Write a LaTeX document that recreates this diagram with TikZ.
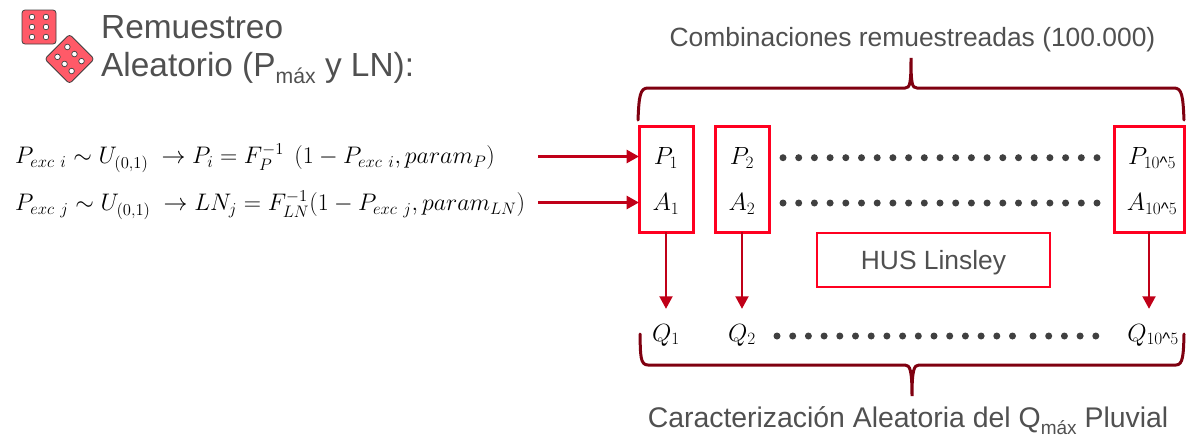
\documentclass[tikz,border=0pt]{standalone}
\usepackage{amsmath}
\usepackage[no-math]{fontspec}
\setmainfont{Liberation Sans}
\usepackage{xcolor}
\usetikzlibrary{arrows.meta,positioning}
\definecolor{boxred}{HTML}{FF0020}
\definecolor{arrowred}{HTML}{C00018}
\definecolor{bracered}{HTML}{7F0010}
\definecolor{dicered}{HTML}{FF5A68}
\definecolor{txtgray}{HTML}{505050}
\definecolor{dotgray}{HTML}{404040}
\newcommand{\subtxt}[2]{\raisebox{-7pt}{\fontsize{#1}{#1}\selectfont #2}}
\newcommand{\caretsym}{\text{\textasciicircum}}

\begin{document}
\begin{tikzpicture}[
    x=1pt, y=-1pt,
    node distance=22pt,
    sample/.style={draw=boxred, line width=3pt, minimum width=54pt, minimum height=106pt, inner sep=0pt, outer sep=0pt},
    hus/.style={draw=boxred, line width=1.2pt, minimum width=233pt, minimum height=54pt, text depth=1pt, font=\fontsize{26.4}{30}\selectfont, text=txtgray},
    val/.style={font=\fontsize{24}{28}\selectfont, inner sep=0pt},
    eqn/.style={font=\fontsize{20}{24}\selectfont, scale=1.154, transform shape, anchor=west, inner sep=0pt},
    qval/.style={val, minimum height=52pt},
    title/.style={text=txtgray, inner sep=0pt, anchor=base},
    arrow/.style={-{Triangle[length=12.5pt,width=13pt]}, line width=2pt, color=arrowred},
    harrow/.style={arrow, line width=3pt},
    brace/.style={line width=3pt, color=bracered, line cap=round},
    die/.style={draw=black!75, line width=0.8pt, fill=dicered, rounded corners=3pt},
    pip/.style={draw=black!75, line width=0.7pt, fill=white},
]
\useasboundingbox (0,0) rectangle (1197,437);

% Dice
\draw[die] (22,10) rectangle (56,44);
\foreach \px in {-7,7} \foreach \py in {-10,0,10}
    \draw[pip] (39+\px,27+\py) circle (2.8);
\begin{scope}[shift={(69.5,59)}, rotate=45]
    \draw[die] (-17.5,-17.5) rectangle (17.5,17.5);
    \foreach \px in {-7,7} \foreach \py in {-10,0,10}
        \draw[pip] (\px,\py) circle (2.8);
\end{scope}

% Heading
\node[font=\fontsize{33.4}{38}\selectfont, text=txtgray, align=left, anchor=north west, inner sep=0pt] (head) at (101,15)
    {Remuestreo\\Aleatorio (P\subtxt{21.2}{máx} y LN):};

% Equations
\node[eqn] (eqP) at (15,158) {$P_{exc\ i}\sim U_{(0,1)}\ \rightarrow P_i=F_P^{-1}\ \,(1-P_{exc\ i},param_P)$};
\node[eqn] (eqA) at (15,205) {$P_{exc\ j}\sim U_{(0,1)}\ \rightarrow LN_j=F_{LN}^{-1}(1-P_{exc\ j},param_{LN})$};
\coordinate (inP) at (538,156.5);
\coordinate (inA) at (538,202.5);

% Sample boxes
\node[sample] (box1) at (666,179) {};
\node[sample, right=of box1] (box2) {};
\node[sample, minimum width=70pt] (boxN) at (1149,179) {};
\node[hus] (linsley) at (933.5,260) {HUS Linsley};

\node[val] (P1) at (666,158) {$P_1$};
\node[val] (A1) at (666,204) {$A_1$};
\node[val] (P2) at (box2 |- P1) {$P_2$};
\node[val] (A2) at (box2 |- A1) {$A_2$};
\node[val] (PN) at (1152,158) {$P_{10\caretsym 5}$};
\node[val] (AN) at (1152,204) {$A_{10\caretsym 5}$};

% Results
\node[qval] (Q1) at (666,335) {$Q_1$};
\node[qval] (Q2) at (742,335) {$Q_2$};
\node[qval] (QN) at (1153,335) {$Q_{10\caretsym 5}$};

% Dotted rows
\foreach \i in {0,...,20} {
    \fill[dotgray] (783+15.7*\i,157.7) circle (3.5);
    \fill[dotgray] (783+15.7*\i,203) circle (3.5);
}
\foreach \i in {0,...,15}
    \fill[dotgray] (777+15.7*\i,336) circle (3.5);
\foreach \i in {0,...,4}
    \fill[dotgray] (1033+15.7*\i,336) circle (3.5);

% Arrows
\draw[harrow] (inP) -- (inP -| box1.west);
\draw[harrow] (inA) -- (inA -| box1.west);
\draw[arrow] (box1.south) -- (Q1.north);
\draw[arrow] (box2.south) -- (Q2.north);
\draw[arrow] (boxN.south) -- (boxN.south |- QN.north);

% Braces
\draw[brace] (638,120) .. controls (639,96) and (640,88) .. (648,88) -- (905,88)
    .. controls (910,88) and (911,84) .. (911,58) .. controls (911,84) and (912,88) .. (917,88)
    -- (1174,88) .. controls (1182,88) and (1183,96) .. (1184,120);
\draw[brace] (640,334) .. controls (640.5,355) and (640,365) .. (648,365) -- (905,365)
    .. controls (910,365) and (912,370) .. (912,396) .. controls (912,370) and (914,365) .. (919,365)
    -- (1176,365) .. controls (1183,365) and (1183.5,355) .. (1184,334);

% Brace labels
\node[title, font=\fontsize{26.4}{30}\selectfont] (topLabel) at (912.5,46) {Combinaciones remuestreadas (100.000)};
\node[title, font=\fontsize{28.4}{32}\selectfont] (botLabel) at (908,427) {Caracterización Aleatoria del Q\subtxt{19}{máx} Pluvial};
\end{tikzpicture}
\end{document}
